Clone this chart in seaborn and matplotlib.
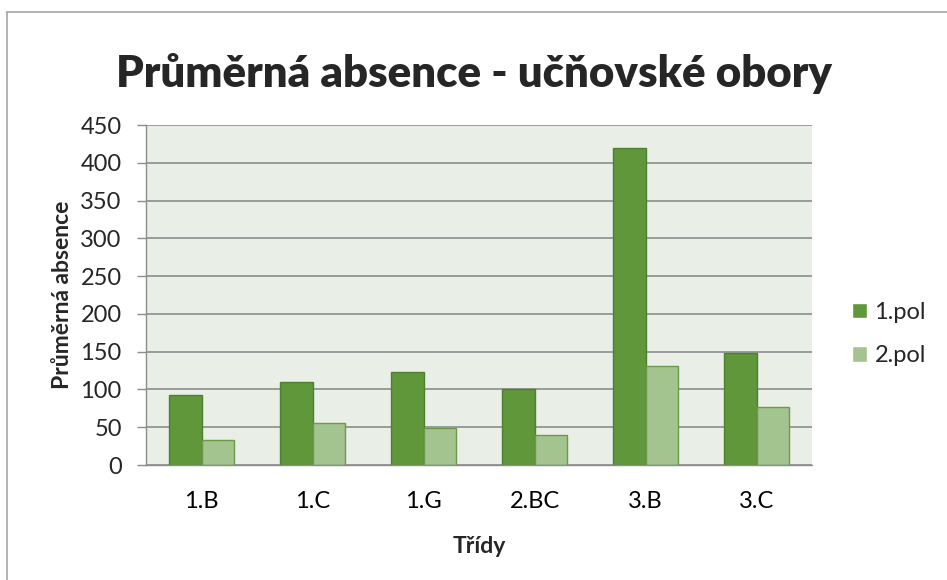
import matplotlib
matplotlib.use("Agg")
import matplotlib.pyplot as plt
from matplotlib.lines import Line2D
import numpy as np
import pandas as pd
import seaborn as sns

# data
tridy = ["1.B", "1.C", "1.G", "2.BC", "3.B", "3.C"]
pol1 = [92, 110, 123, 101, 420, 148]
pol2 = [33, 56, 49, 40, 131, 77]
serie = ["1.pol", "2.pol"]
barvy = ["#5F973A", "#A3C48F"]
okraje = ["#4F8030", "#6A9A4A"]

df = pd.DataFrame({
    "Třídy": tridy * 2,
    "Průměrná absence": pol1 + pol2,
    "pol": [serie[0]] * len(tridy) + [serie[1]] * len(tridy),
})

sns.set_theme(style="white")
plt.rcParams["font.family"] = ["Lato", "DejaVu Sans"]

fig = plt.figure(figsize=(9.47, 5.8), dpi=100)
ax = fig.add_axes([146 / 947, 1 - 465 / 580, 666 / 947, 340 / 580])

sns.barplot(data=df, x="Třídy", y="Průměrná absence", hue="pol",
            palette=barvy, saturation=1, width=0.58, ax=ax, legend=True)

for cont, ec in zip(ax.containers, okraje):
    for p in cont:
        p.set_edgecolor(ec)
        p.set_linewidth(1.0)

ax.set_facecolor("#E9EFE7")
ax.set_ylim(0, 450)
ax.set_xlim(-0.5, len(tridy) - 0.5)
ax.set_yticks(np.arange(0, 451, 50))
ax.yaxis.grid(True, color="#8C8C8C", linewidth=1.2)
ax.set_axisbelow(True)

# category ticks sit between groups
ax.set_xticks(np.arange(len(tridy)))
ax.set_xticklabels(tridy)
ax.tick_params(axis="x", length=0, labelsize=17, pad=19, colors="black")
ax.set_xticks(np.arange(-0.5, len(tridy)), minor=True)
ax.tick_params(axis="x", which="minor", length=7, width=1, color="#8C8C8C", direction="out")
ax.tick_params(axis="y", length=6.5, width=1, color="#8C8C8C", direction="out",
               labelsize=17, pad=11, left=True)

for side in ["top", "right"]:
    ax.spines[side].set_visible(False)
for side in ["left", "bottom"]:
    ax.spines[side].set_color("#8C8C8C")
    ax.spines[side].set_linewidth(1)

ax.set_xlabel("Třídy", fontsize=16.5, fontweight="bold", labelpad=17)
ax.set_ylabel("Průměrná absence", fontsize=16.5, fontweight="bold", labelpad=5)

fig.text(0.5, 1 - 74 / 580, "Průměrná absence - učňovské obory", ha="center", va="center",
         fontsize=31.5, fontweight="heavy")

leg = ax.legend(loc="center left", bbox_to_anchor=((852 - 146) / 666, 0.385), frameon=False,
                fontsize=17, handlelength=0.65, handleheight=0.65, labelspacing=0.95,
                handletextpad=0.3, borderpad=0, borderaxespad=0)

# chart border (only left and top edges are inside the picture)
fig.add_artist(Line2D([7 / 947, 7 / 947], [0, 1 - 12 / 580], transform=fig.transFigure,
                      color="#A6A6A6", linewidth=1.2))
fig.add_artist(Line2D([7 / 947, 1], [1 - 12 / 580, 1 - 12 / 580], transform=fig.transFigure,
                      color="#A6A6A6", linewidth=1.2))

fig.savefig("out.png", dpi=100)
